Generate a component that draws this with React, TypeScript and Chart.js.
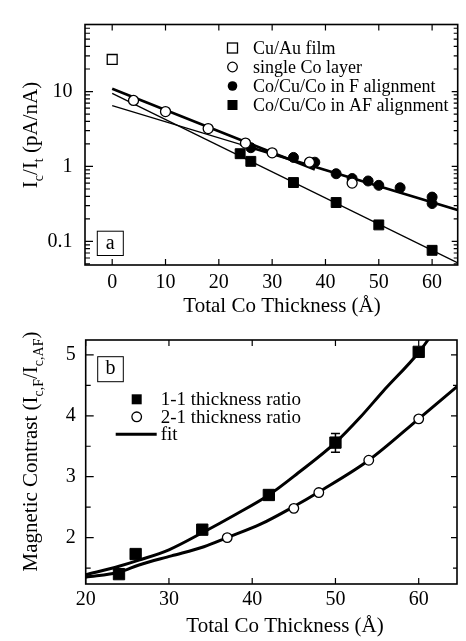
import React, { useEffect, useRef } from 'react';
import { Chart, registerables } from 'chart.js';

Chart.register(...registerables);

const SERIF = "'Liberation Serif', 'Times New Roman', Times, serif";

// ---------------- Panel (a) data ----------------
const cuAuX = [0];
const cuAuY = [26.8];
const singleCoX = [4, 10, 18, 25, 30, 37, 45];
const singleCoY = [7.6, 5.4, 3.2, 2.05, 1.52, 1.14, 0.6];
const fAlignX = [26, 34, 38, 42, 45, 48, 50, 54, 60, 60];
const fAlignY = [1.78, 1.32, 1.14, 0.8, 0.69, 0.64, 0.56, 0.52, 0.39, 0.32];
const afAlignX = [24, 26, 34, 42, 50, 60];
const afAlignY = [1.48, 1.17, 0.61, 0.33, 0.166, 0.076];
// straight fit lines (end points)
const singleCoFitX = [0, 38];
const singleCoFitY = [10.9, 0.91];
const fFitX = [0, 65];
const fFitY = [6.5, 0.26];
const fFitThickX = [24, 65];
const fFitThickY = [1.98, 0.26];
const afFitX = [0, 65];
const afFitY = [9.44, 0.0509];

const xTicksA = [0, 10, 20, 30, 40, 50, 60];
const yTicksA = [0.1, 1, 10];
const yMinorA = [0.05, 0.06, 0.07, 0.08, 0.09, 0.2, 0.3, 0.4, 0.5, 0.6, 0.7, 0.8, 0.9, 2, 3, 4, 5, 6, 7, 8, 9, 20, 30, 40, 50, 60, 70];
const legendLabelsA = ['Cu/Au film', 'single Co layer', 'Co/Cu/Co in F alignment', 'Co/Cu/Co in AF alignment'];
const legendStylesA = ['rectOpen', 'circleOpen', 'circleFilled', 'rectFilled'];

// ---------------- Panel (b) data ----------------
const ratio11X = [24, 26, 34, 42, 50, 60];
const ratio11Y = [1.4, 1.73, 2.13, 2.7, 3.56, 5.05];
const ratio21X = [37, 45, 48, 54, 60];
const ratio21Y = [2.0, 2.48, 2.74, 3.27, 3.95];
const fit11X = [20, 24, 26.4, 30, 34, 38, 42, 45.5, 50, 53, 55.7, 60, 61.5];
const fit11Y = [1.39, 1.53, 1.63, 1.8, 2.08, 2.38, 2.7, 3.06, 3.56, 3.98, 4.4, 5.04, 5.32];
const fit21X = [20, 24, 26.4, 30.3, 34.2, 37, 41, 45, 48, 54, 60, 64.6];
const fit21Y = [1.35, 1.43, 1.55, 1.7, 1.85, 2.0, 2.22, 2.51, 2.75, 3.27, 3.95, 4.48];
const errX = [50];
const errLo = [3.4];
const errHi = [3.71];

const xTicksB = [20, 30, 40, 50, 60];
const yTicksB = [2, 3, 4, 5];
const yMinorB = [1.5, 2.5, 3.5, 4.5];
const legendLabelsB = ['1-1 thickness ratio', '2-1 thickness ratio', 'fit'];
const legendStylesB = ['rectFilled', 'circleOpen', 'line'];

const xTitle = 'Total Co Thickness (\u00C5)';
const yTitleA = [
  { t: 'I', sub: false }, { t: 'c', sub: true }, { t: '/I', sub: false }, { t: 't', sub: true }, { t: ' (pA/nA)', sub: false },
];
const yTitleB = [
  { t: 'Magnetic Contrast (I', sub: false }, { t: 'c,F', sub: true }, { t: '/I', sub: false }, { t: 'c,AF', sub: true }, { t: ')', sub: false },
];

const pts = (xs: number[], ys: number[]) => xs.map((x, i) => ({ x, y: ys[i] }));

function drawSymbol(ctx: CanvasRenderingContext2D, style: string, x: number, y: number) {
  ctx.save();
  ctx.strokeStyle = '#000';
  ctx.fillStyle = '#000';
  ctx.lineWidth = 1.3;
  if (style === 'rectOpen' || style === 'rectFilled') {
    const s = 10;
    if (style === 'rectFilled') ctx.fillRect(x - s / 2, y - s / 2, s, s);
    else { ctx.fillStyle = '#fff'; ctx.fillRect(x - s / 2, y - s / 2, s, s); ctx.strokeRect(x - s / 2, y - s / 2, s, s); }
  } else if (style === 'circleOpen' || style === 'circleFilled') {
    ctx.beginPath();
    ctx.arc(x, y, 4.8, 0, Math.PI * 2);
    if (style === 'circleFilled') ctx.fill(); else ctx.stroke();
  } else if (style === 'line') {
    ctx.lineWidth = 3;
    ctx.beginPath();
    ctx.moveTo(x - 21, y);
    ctx.lineTo(x + 20, y);
    ctx.stroke();
  }
  ctx.restore();
}

function drawRotatedRich(ctx: CanvasRenderingContext2D, parts: { t: string; sub: boolean }[], baseX: number, cy: number, size: number, subSize: number, subOff: number) {
  ctx.save();
  const mainF = `${size}px ${SERIF}`;
  const subF = `${subSize}px ${SERIF}`;
  let total = 0;
  const widths = parts.map((p) => { ctx.font = p.sub ? subF : mainF; const w = ctx.measureText(p.t).width; total += w; return w; });
  ctx.translate(baseX, cy);
  ctx.rotate(-Math.PI / 2);
  ctx.fillStyle = '#000';
  ctx.textBaseline = 'alphabetic';
  ctx.textAlign = 'left';
  let x = -total / 2;
  parts.forEach((p, i) => {
    ctx.font = p.sub ? subF : mainF;
    ctx.fillText(p.t, x, p.sub ? subOff : 0);
    x += widths[i];
  });
  ctx.restore();
}

type Spec = {
  xMajor: number[]; yMajor: number[]; yMinor: number[];
  xLen: number; lMaj: number; lMin: number; rMaj: number; rMin: number;
  titleX: number; titleBase: number;
  yTitle: { t: string; sub: boolean }[]; yTitleBaseX: number; yTitleCY: number;
  panel: string; panelBox: [number, number, number, number];
  legendLabels: string[]; legendStyles: string[];
  legSymX: number; legTextX: number; legY0: number; legDY: number; legSize: number;
  err?: boolean;
};

function makePlugin(spec: Spec) {
  return {
    id: 'frameDecor',
    beforeDatasetsDraw(chart: any) {
      if (!spec.err) return;
      const ctx = chart.ctx as CanvasRenderingContext2D;
      const xs = chart.scales.x, ys = chart.scales.y;
      ctx.save();
      ctx.strokeStyle = '#000';
      ctx.lineWidth = 1.5;
      ctx.beginPath();
      errX.forEach((v, i) => {
        const px = xs.getPixelForValue(v);
        const p1 = ys.getPixelForValue(errLo[i]);
        const p2 = ys.getPixelForValue(errHi[i]);
        ctx.moveTo(px, p1); ctx.lineTo(px, p2);
        ctx.moveTo(px - 4.5, p1); ctx.lineTo(px + 4.5, p1);
        ctx.moveTo(px - 4.5, p2); ctx.lineTo(px + 4.5, p2);
      });
      ctx.stroke();
      ctx.restore();
    },
    afterDraw(chart: any) {
      const ctx = chart.ctx as CanvasRenderingContext2D;
      const { left, right, top, bottom } = chart.chartArea;
      const xs = chart.scales.x, ys = chart.scales.y;
      ctx.save();
      ctx.strokeStyle = '#000';
      ctx.lineWidth = 1.2;
      ctx.beginPath();
      spec.xMajor.forEach((v) => {
        const p = xs.getPixelForValue(v);
        ctx.moveTo(p, bottom); ctx.lineTo(p, bottom - spec.xLen);
        ctx.moveTo(p, top); ctx.lineTo(p, top + spec.xLen);
      });
      spec.yMajor.forEach((v) => {
        const p = ys.getPixelForValue(v);
        ctx.moveTo(left, p); ctx.lineTo(left + spec.lMaj, p);
        ctx.moveTo(right, p); ctx.lineTo(right - spec.rMaj, p);
      });
      spec.yMinor.forEach((v) => {
        const p = ys.getPixelForValue(v);
        ctx.moveTo(left, p); ctx.lineTo(left + spec.lMin, p);
        ctx.moveTo(right, p); ctx.lineTo(right - spec.rMin, p);
      });
      ctx.stroke();
      ctx.lineWidth = 1.6;
      ctx.strokeRect(left, top, right - left, bottom - top);

      // panel letter box
      const [bx, by, bw, bh] = spec.panelBox;
      ctx.lineWidth = 1;
      ctx.fillStyle = '#fff';
      ctx.fillRect(left + bx, top + by, bw, bh);
      ctx.strokeRect(left + bx, top + by, bw, bh);
      ctx.fillStyle = '#000';
      ctx.font = `20px ${SERIF}`;
      ctx.textAlign = 'center';
      ctx.textBaseline = 'middle';
      ctx.fillText(spec.panel, left + bx + bw / 2, top + by + bh / 2);

      // legend
      ctx.font = `${spec.legSize}px ${SERIF}`;
      ctx.textAlign = 'left';
      ctx.textBaseline = 'middle';
      spec.legendLabels.forEach((lab, i) => {
        const y = top + spec.legY0 + i * spec.legDY;
        drawSymbol(ctx, spec.legendStyles[i], left + spec.legSymX, y);
        ctx.fillStyle = '#000';
        ctx.fillText(lab, left + spec.legTextX, y + 1);
      });

      // x title
      ctx.font = `21px ${SERIF}`;
      ctx.textAlign = 'center';
      ctx.textBaseline = 'alphabetic';
      ctx.fillText(xTitle, spec.titleX, spec.titleBase);
      ctx.restore();

      drawRotatedRich(ctx, spec.yTitle, spec.yTitleBaseX, spec.yTitleCY, 21, 14, 6);
    },
  };
}

const lineDs = (xs: number[], ys: number[], w: number, smooth = false) => ({
  data: pts(xs, ys),
  showLine: true,
  pointRadius: 0,
  borderColor: '#000',
  backgroundColor: '#000',
  borderWidth: w,
  fill: false,
  tension: smooth ? 0.4 : 0,
  cubicInterpolationMode: smooth ? 'monotone' : 'default',
});

const tickFont = { family: SERIF, size: 20 };

function configA(): any {
  return {
    type: 'scatter',
    data: {
      datasets: [
        { data: pts(cuAuX, cuAuY), pointStyle: 'rect', pointRadius: 7, backgroundColor: '#fff', borderColor: '#000', borderWidth: 1.3 },
        { data: pts(singleCoX, singleCoY), pointStyle: 'circle', pointRadius: 5, backgroundColor: '#fff', borderColor: '#000', borderWidth: 1.3 },
        { data: pts(fAlignX, fAlignY), pointStyle: 'circle', pointRadius: 5, backgroundColor: '#000', borderColor: '#000', borderWidth: 1 },
        { data: pts(afAlignX, afAlignY), pointStyle: 'rect', pointRadius: 7, backgroundColor: '#000', borderColor: '#000', borderWidth: 1 },
        lineDs(singleCoFitX, singleCoFitY, 2.6),
        lineDs(fFitX, fFitY, 1.3),
        lineDs(fFitThickX, fFitThickY, 2.6),
        lineDs(afFitX, afFitY, 1.3),
      ],
    },
    options: {
      animation: false,
      responsive: false,
      devicePixelRatio: 1,
      events: [],
      layout: { padding: { left: 0, right: 1, top: 10, bottom: 0 } },
      plugins: { legend: { display: false }, tooltip: { enabled: false } },
      scales: {
        x: {
          type: 'linear', min: -5.1, max: 64.8,
          grid: { display: false, drawTicks: false, tickLength: 0 },
          border: { display: false },
          afterBuildTicks: (s: any) => { s.ticks = xTicksA.map((v) => ({ value: v })); },
          afterFit: (s: any) => { s.height = 53; },
          ticks: { font: tickFont, color: '#000', padding: 6, maxRotation: 0, autoSkip: false, callback: (v: any) => String(v) },
        },
        y: {
          type: 'logarithmic', min: 0.0484, max: 78.5,
          grid: { display: false, drawTicks: false, tickLength: 0 },
          border: { display: false },
          afterBuildTicks: (s: any) => { s.ticks = yTicksA.map((v) => ({ value: v })); },
          afterFit: (s: any) => { s.width = 85; },
          ticks: { font: tickFont, color: '#000', padding: 12.5, autoSkip: false, callback: (v: any) => String(v) },
        },
      },
    },
    plugins: [makePlugin({
      xMajor: xTicksA, yMajor: yTicksA, yMinor: yMinorA,
      xLen: 6, lMaj: 8, lMin: 5, rMaj: 6, rMin: 4,
      titleX: 282, titleBase: 311.5,
      yTitle: yTitleA, yTitleBaseX: 36.5, yTitleCY: 135,
      panel: 'a', panelBox: [12.3, 206.7, 26, 24.3],
      legendLabels: legendLabelsA, legendStyles: legendStylesA,
      legSymX: 147.5, legTextX: 168, legY0: 23.5, legDY: 19, legSize: 18,
    })],
  };
}

function configB(): any {
  return {
    type: 'scatter',
    data: {
      datasets: [
        { data: pts(ratio11X, ratio11Y), pointStyle: 'rect', pointRadius: 8, backgroundColor: '#000', borderColor: '#000', borderWidth: 1 },
        { data: pts(ratio21X, ratio21Y), pointStyle: 'circle', pointRadius: 4.8, backgroundColor: '#fff', borderColor: '#000', borderWidth: 1.3 },
        lineDs(fit11X, fit11Y, 3, true),
        lineDs(fit21X, fit21Y, 3, true),
      ],
    },
    options: {
      animation: false,
      responsive: false,
      devicePixelRatio: 1,
      events: [],
      layout: { padding: { left: 0, right: 0.5, top: 12, bottom: 0 } },
      plugins: { legend: { display: false }, tooltip: { enabled: false } },
      scales: {
        x: {
          type: 'linear', min: 20, max: 64.6,
          grid: { display: false, drawTicks: false, tickLength: 0 },
          border: { display: false },
          afterBuildTicks: (s: any) => { s.ticks = xTicksB.map((v) => ({ value: v })); },
          afterFit: (s: any) => { s.height = 57; },
          ticks: { font: tickFont, color: '#000', padding: 4, maxRotation: 0, autoSkip: false, callback: (v: any) => String(v) },
        },
        y: {
          type: 'linear', min: 1.238, max: 5.245,
          grid: { display: false, drawTicks: false, tickLength: 0 },
          border: { display: false },
          afterBuildTicks: (s: any) => { s.ticks = yTicksB.map((v) => ({ value: v })); },
          afterFit: (s: any) => { s.width = 85.7; },
          ticks: { font: tickFont, color: '#000', padding: 10, autoSkip: false, callback: (v: any) => String(v) },
        },
      },
    },
    plugins: [makePlugin({
      xMajor: xTicksB, yMajor: yTicksB, yMinor: yMinorB,
      xLen: 6, lMaj: 8, lMin: 5, rMaj: 6, rMin: 4,
      titleX: 285, titleBase: 314,
      yTitle: yTitleB, yTitleBaseX: 36.5, yTitleCY: 133.5,
      panel: 'b', panelBox: [12, 16.7, 25.6, 25],
      legendLabels: legendLabelsB, legendStyles: legendStylesB,
      legSymX: 51, legTextX: 75, legY0: 59.3, legDY: 17.5, legSize: 19,
      err: true,
    })],
  };
}

function ChartCanvas({ make, top, height }: { make: () => any; top: number; height: number }) {
  const ref = useRef<HTMLCanvasElement>(null);
  useEffect(() => {
    const chart = new Chart(ref.current as HTMLCanvasElement, make());
    return () => chart.destroy();
  }, []);
  return (
    <canvas
      ref={ref}
      width={466}
      height={height}
      style={{ position: 'absolute', left: 0, top, width: 466, height, display: 'block' }}
    />
  );
}

export default function App() {
  return (
    <div style={{ position: 'absolute', left: 0, top: 0, width: 466, height: 641, background: '#fff', overflow: 'hidden' }}>
      <ChartCanvas make={configA} top={0} height={318} />
      <ChartCanvas make={configB} top={318} height={323} />
    </div>
  );
}
